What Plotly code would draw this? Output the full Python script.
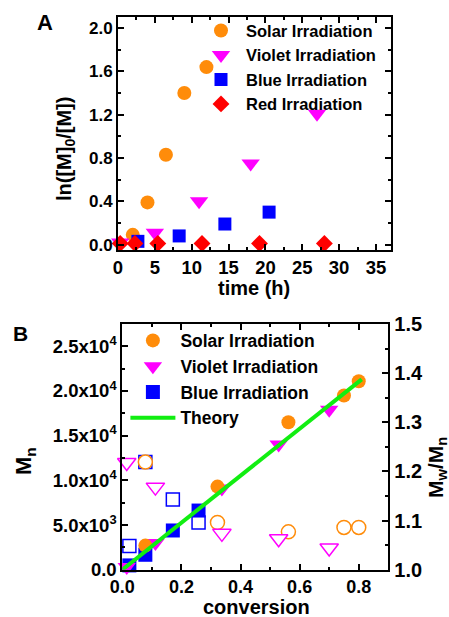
import plotly.graph_objects as go

# ---------------- Panel A data: ln([M]0/[M]) vs time (h) ----------------
solar_t = [2, 4, 6.5, 9, 12]
solar_ln = [0.09, 0.39, 0.83, 1.40, 1.64]
violet_t = [0.3, 5, 11, 18, 27]
violet_ln = [0.02, 0.11, 0.40, 0.75, 1.21]
blue_t = [2.7, 8.3, 14.5, 20.5]
blue_ln = [0.03, 0.08, 0.19, 0.30]
red_t = [0.3, 2.3, 5.4, 11.4, 19.2, 28]
red_ln = [0.01, 0.01, 0.01, 0.01, 0.01, 0.01]

# ---------------- Panel B data: Mn and Mw/Mn vs conversion ----------------
solar_conv = [0.078, 0.322, 0.562, 0.75, 0.80]
solar_mn = [2700, 9300, 16500, 19500, 21100]
solar_pdi = [1.219, 1.096, 1.077, 1.086, 1.086]
violet_conv = [0.015, 0.112, 0.337, 0.529, 0.70]
violet_mn = [300, 3000, 9100, 14000, 17900]
violet_pdi = [1.218, 1.168, 1.074, 1.063, 1.044]
blue_conv = [0.024, 0.078, 0.171, 0.258]
blue_mn = [480, 1670, 4390, 6620]
blue_pdi = [1.048, 1.219, 1.143, 1.096]
theory_conv = [0, 0.81]
theory_mn = [0, 21300]

# tick labels
mn_tickvals = [0, 5000, 10000, 15000, 20000, 25000]
mn_ticktext = ["0.0", "5.0x10<sup>3</sup>", "1.0x10<sup>4</sup>", "1.5x10<sup>4</sup>",
               "2.0x10<sup>4</sup>", "2.5x10<sup>4</sup>"]

ORANGE = "#FF8C0A"
VIOLET = "#FF00FF"
BLUE = "#0000FF"
RED = "#FF0000"
GREEN = "#11EE11"
FONT = "Arial, 'Liberation Sans', sans-serif"

W, H = 449, 617


def px(x):
    return x / W


def py(y):
    return 1 - y / H


fig = go.Figure()

# ---- Panel A traces ----
fig.add_trace(go.Scatter(x=solar_t, y=solar_ln, mode="markers", name="Solar Irradiation",
                         marker=dict(symbol="circle", size=14, color=ORANGE, line=dict(width=0)),
                         xaxis="x", yaxis="y", legend="legend", cliponaxis=False))
fig.add_trace(go.Scatter(x=violet_t, y=violet_ln, mode="markers", name="Violet Irradiation",
                         marker=dict(symbol="triangle-down", size=16, color=VIOLET, line=dict(width=0)),
                         xaxis="x", yaxis="y", legend="legend", cliponaxis=False))
fig.add_trace(go.Scatter(x=blue_t, y=blue_ln, mode="markers", name="Blue Irradiation",
                         marker=dict(symbol="square", size=13, color=BLUE, line=dict(width=0)),
                         xaxis="x", yaxis="y", legend="legend", cliponaxis=False))
fig.add_trace(go.Scatter(x=red_t, y=red_ln, mode="markers", name="Red Irradiation",
                         marker=dict(symbol="diamond", size=13, color=RED, line=dict(width=0)),
                         xaxis="x", yaxis="y", legend="legend", cliponaxis=False))

# ---- Panel B traces: PDI (open, right axis y2) ----
fig.add_trace(go.Scatter(x=blue_conv, y=blue_pdi, mode="markers", showlegend=False,
                         marker=dict(symbol="square", size=13, color="white", line=dict(width=1.5, color=BLUE)),
                         xaxis="x2", yaxis="y2", cliponaxis=False))
fig.add_trace(go.Scatter(x=solar_conv, y=solar_pdi, mode="markers", showlegend=False,
                         marker=dict(symbol="circle", size=14, color="white", line=dict(width=1.5, color=ORANGE)),
                         xaxis="x2", yaxis="y2", cliponaxis=False))
fig.add_trace(go.Scatter(x=violet_conv, y=violet_pdi, mode="markers", showlegend=False,
                         marker=dict(symbol="triangle-down", size=16, color="white", line=dict(width=1.5, color=VIOLET)),
                         xaxis="x2", yaxis="y2", cliponaxis=False))

# ---- Panel B traces: Mn (filled, left axis y3 overlaying) ----
fig.add_trace(go.Scatter(x=blue_conv, y=blue_mn, mode="markers", name="Blue Irradiation",
                         marker=dict(symbol="square", size=14, color=BLUE, line=dict(width=0)),
                         xaxis="x2", yaxis="y3", legend="legend2", legendrank=3, cliponaxis=False))
fig.add_trace(go.Scatter(x=violet_conv, y=violet_mn, mode="markers", name="Violet Irradiation",
                         marker=dict(symbol="triangle-down", size=16, color=VIOLET, line=dict(width=0)),
                         xaxis="x2", yaxis="y3", legend="legend2", legendrank=2, cliponaxis=False))
fig.add_trace(go.Scatter(x=solar_conv, y=solar_mn, mode="markers", name="Solar Irradiation",
                         marker=dict(symbol="circle", size=14, color=ORANGE, line=dict(width=0)),
                         xaxis="x2", yaxis="y3", legend="legend2", legendrank=1, cliponaxis=False))
fig.add_trace(go.Scatter(x=theory_conv, y=theory_mn, mode="lines", name="Theory",
                         line=dict(color=GREEN, width=4),
                         xaxis="x2", yaxis="y3", legend="legend2", legendrank=4, cliponaxis=False))

axis_common = dict(showline=True, linewidth=2, linecolor="black", showgrid=False, zeroline=False,
                   ticks="inside", ticklen=6, tickwidth=1.5, tickcolor="black", automargin=False)
minor_common = dict(ticks="inside", ticklen=3, tickwidth=1.5, tickcolor="black", showgrid=False)

fig.update_layout(
    width=W, height=H,
    margin=dict(l=0, r=0, t=0, b=0),
    paper_bgcolor="white", plot_bgcolor="white",
    font=dict(family=FONT, color="black", weight="bold"),
    xaxis=dict(domain=[px(118), px(390.7)], anchor="y", range=[0, 37],
               tickmode="linear", tick0=0, dtick=5, mirror="ticks",
               tickfont=dict(size=18.5, family=FONT, weight="bold"),
               minor=dict(dtick=2.5, tick0=0, **minor_common), **axis_common),
    yaxis=dict(domain=[py(250), py(17.3)], anchor="x", range=[-0.05, 2.1],
               tickmode="linear", tick0=0, dtick=0.4, tickformat=".1f", mirror="ticks",
               tickfont=dict(size=17, family=FONT, weight="bold"),
               minor=dict(dtick=0.2, tick0=0, **minor_common), **axis_common),
    xaxis2=dict(domain=[px(122.3), px(388.3)], anchor="y2", range=[0, 0.9],
                tickmode="linear", tick0=0, dtick=0.2, tickformat=".1f", mirror="ticks",
                tickfont=dict(size=18, family=FONT, weight="bold"),
                minor=dict(dtick=0.1, tick0=0, **minor_common), **axis_common),
    yaxis2=dict(domain=[py(569.7), py(324)], anchor="x2", side="right", range=[1.0, 1.5],
                tickmode="linear", tick0=1.0, dtick=0.1, tickformat=".1f",
                tickfont=dict(size=20, family=FONT, weight="bold"),
                minor=dict(dtick=0.05, tick0=1.0, **minor_common), **axis_common),
    yaxis3=dict(overlaying="y2", anchor="x2", side="left", range=[0, 27500],
                tickmode="array", tickvals=mn_tickvals, ticktext=mn_ticktext,
                tickfont=dict(size=18.5, family=FONT, weight="bold"),
                minor=dict(dtick=2500, tick0=0, **minor_common), **axis_common),
    legend=dict(x=px(196), y=py(13.3), xanchor="left", yanchor="top", bgcolor="rgba(0,0,0,0)",
                font=dict(size=16.5, family=FONT, weight="bold"), tracegroupgap=0,
                itemwidth=40, traceorder="normal"),
    legend2=dict(x=px(125.4), y=py(322.5), xanchor="left", yanchor="top", bgcolor="rgba(0,0,0,0)",
                 font=dict(size=17.5, family=FONT, weight="bold"), tracegroupgap=0,
                 itemwidth=45, traceorder="normal"),
)

ann_font = dict(family=FONT, color="black", weight="bold")
annotations = [
    dict(text="A", x=px(45), y=py(23), font=dict(size=22, **ann_font)),
    dict(text="B", x=px(20), y=py(333), font=dict(size=21, **ann_font)),
    dict(text="time (h)", x=px(254), y=py(288), font=dict(size=20, **ann_font)),
    dict(text="ln([M]<sub>0</sub>/[M])", x=px(66), y=py(149), textangle=-90, font=dict(size=20, **ann_font)),
    dict(text="conversion", x=px(256), y=py(606.5), font=dict(size=20, **ann_font)),
    dict(text="M<sub>n</sub>", x=px(25), y=py(461), textangle=-90, font=dict(size=22, **ann_font)),
    dict(text="M<sub>w</sub>/M<sub>n</sub>", x=px(437), y=py(468), textangle=-90, font=dict(size=21, **ann_font)),
]
for a in annotations:
    a.update(xref="paper", yref="paper", showarrow=False, xanchor="center", yanchor="middle")
fig.update_layout(annotations=annotations)

fig.write_html("out.html", config={"displayModeBar": False},
               post_script="document.body.style.margin='0px';")
